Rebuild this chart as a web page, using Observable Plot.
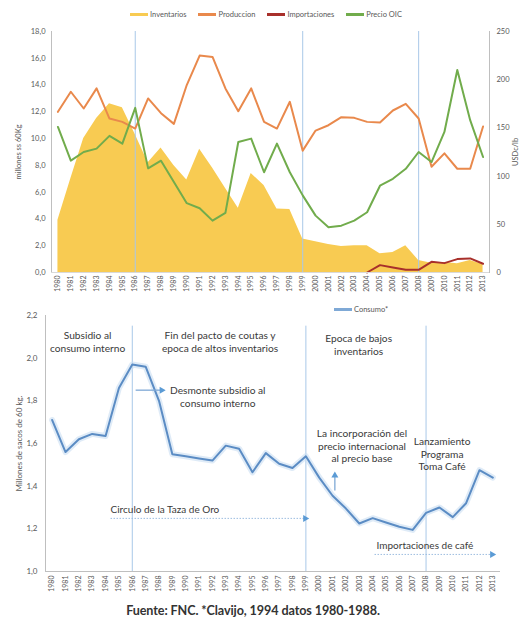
<!DOCTYPE html>
<html>
<head>
<meta charset="utf-8">
<script src="https://cdn.jsdelivr.net/npm/d3@7"></script>
<script src="https://cdn.jsdelivr.net/npm/@observablehq/plot@0.6"></script>
<style>
  body { margin: 0; background: #fff; font-family: Lato, "Open Sans", sans-serif; }
  #wrap { position: relative; width: 521px; height: 620px; overflow: hidden; }
  #wrap svg { position: absolute; left: 0; }
  .legend { position: absolute; display: flex; align-items: center; font-size: 7.5px; color: #595959; white-space: nowrap; }
  .legend .item { display: flex; align-items: center; margin-right: 12px; }
  .legend .sw { display: inline-block; width: 18px; height: 2.5px; margin-right: 2px; }
  #footer { position: absolute; top: 603px; left: 0; width: 506px; text-align: center; font-size: 12.6px; font-weight: 700; color: #333; letter-spacing: -0.1px; }
</style>
</head>
<body>
<div id="wrap">
  <div class="legend" id="legendTop" style="top:10px;left:130px;"></div>
  <div class="legend" id="legendBottom" style="top:305px;left:334px;"></div>
  <div id="footer">Fuente: FNC. *Clavijo, 1994 datos 1980-1988.</div>
</div>
<script>
// Years shown on both panels
const years = [1980, 1981, 1982, 1983, 1984, 1985, 1986, 1987, 1988, 1989,
               1990, 1991, 1992, 1993, 1994, 1995, 1996, 1997, 1998, 1999,
               2000, 2001, 2002, 2003, 2004, 2005, 2006, 2007, 2008, 2009,
               2010, 2011, 2012, 2013];

// Upper panel (millones de sacos de 60 kg)
const inventarios = [3.9, 7.0, 10.0, 11.5, 12.6, 12.3, 10.3, 8.2, 9.3, 8.0,
                     6.9, 9.2, 7.8, 6.3, 4.8, 7.4, 6.5, 4.75, 4.7, 2.5,
                     2.3, 2.1, 1.95, 2.0, 2.0, 1.4, 1.5, 2.0, 0.9, 0.7,
                     0.75, 0.65, 0.9, 0.6];
const produccion = [12.0, 13.5, 12.25, 13.75, 11.5, 11.25, 10.75, 13.0, 11.9, 11.1,
                    14.0, 16.2, 16.1, 13.75, 12.05, 13.75, 11.25, 10.75, 12.75, 9.1,
                    10.6, 11.0, 11.6, 11.55, 11.25, 11.2, 12.1, 12.6, 11.5, 7.9,
                    8.9, 7.75, 7.75, 10.9];
const importYears = [2004, 2005, 2006, 2007, 2008, 2009, 2010, 2011, 2012, 2013];
const importaciones = [0.0, 0.55, 0.38, 0.2, 0.2, 0.8, 0.7, 1.0, 1.05, 0.65];

// Upper panel, right axis (USDc/lb)
const precioOIC = [151, 116, 125, 128.5, 141.7, 133.7, 170.8, 108, 116, 93.8,
                   71.9, 66.7, 53.8, 61.8, 135.4, 138.9, 104, 133.7, 104, 80,
                   59, 46.9, 48.6, 53.8, 62.5, 90, 97.2, 107.6, 125, 114.6,
                   145.8, 210, 158, 119.8];

// Lower panel (millones de sacos de 60 kg)
const consumo = [1.71, 1.56, 1.62, 1.645, 1.635, 1.86, 1.97, 1.96, 1.80, 1.55,
                 1.54, 1.53, 1.52, 1.59, 1.575, 1.465, 1.555, 1.505, 1.485, 1.54,
                 1.44, 1.355, 1.295, 1.225, 1.25, 1.23, 1.21, 1.195, 1.275, 1.30,
                 1.255, 1.32, 1.475, 1.44];

// Period boundaries marked on both panels
const epochYears = [1986, 1999, 2008];

// Axis ticks
const leftTicks = [0, 2, 4, 6, 8, 10, 12, 14, 16, 18];
const rightTicks = [0, 50, 100, 150, 200, 250];
const consumoTicks = [1.0, 1.2, 1.4, 1.6, 1.8, 2.0, 2.2];

// Notes on the lower panel (year, value in millions of bags)
const notesCentered = [
  {year: 1982.65, value: 2.08, text: "Subsidio al\nconsumo interno"},
  {year: 1992.57, value: 2.08, text: "Fin del pacto de coutas y\nepoca de altos inventarios"},
  {year: 1992.4, value: 1.82, text: "Desmonte subsidio al\nconsumo interno"},
  {year: 2002.95, value: 2.066, text: "Epoca de bajos\ninventarios"},
  {year: 2003.2, value: 1.59, text: "La incorporación del\nprecio internacional\nal precio base"},
  {year: 2009.2, value: 1.553, text: "Lanzamiento\nPrograma\nToma Café"}
];
const notesLeft = [
  {year: 1984.37, value: 1.291, text: "Circulo de la Taza de Oro"},
  {year: 2004.29, value: 1.122, text: "Importaciones de café"}
];
const arrows = [
  {x1: 1986.25, y1: 1.85, x2: 1988.2, y2: 1.85, dotted: false},
  {x1: 1984.37, y1: 1.249, x2: 1998.95, y2: 1.249, dotted: true},
  {x1: 2001.17, y1: 1.38, x2: 2001.17, y2: 1.45, dotted: false},
  {x1: 2004.14, y1: 1.08, x2: 2012.95, y2: 1.08, dotted: true}
];

const rows = (xs, vs) => xs.map((year, i) => ({year, value: vs[i]}));
const invRows = rows(years, inventarios);
const prodRows = rows(years, produccion);
const impRows = rows(importYears, importaciones);
const priceRows = rows(years, precioOIC);
const consRows = rows(years, consumo);

const comma1 = d => d.toFixed(1).replace(".", ",");
const xDomain = [1979.5, 2013.5];
const FONT = "Lato, 'Open Sans', sans-serif";

const COLORS = {
  inventarios: "#F8CB52",
  produccion: "#E9894C",
  importaciones: "#A8302B",
  precio: "#71AC4C",
  consumo: "#5B8CC4",
  epoch: "#A9C8E8",
  axis: "#BFBFBF"
};

const wrap = document.getElementById("wrap");

// Upper panel: inventories, production and imports on the left scale
const topMain = Plot.plot({
  width: 521, height: 300,
  marginTop: 31, marginBottom: 28, marginLeft: 51, marginRight: 32,
  style: {background: "transparent", fontFamily: FONT, fontSize: "7.5px", color: "#595959"},
  x: {domain: xDomain},
  y: {domain: [0, 18]},
  marks: [
    Plot.areaY(invRows, {x: "year", y: "value", fill: COLORS.inventarios, curve: "linear"}),
    Plot.ruleX(epochYears, {stroke: COLORS.epoch, strokeWidth: 1}),
    Plot.lineY(prodRows, {x: "year", y: "value", stroke: COLORS.produccion, strokeWidth: 2}),
    Plot.lineY(impRows, {x: "year", y: "value", stroke: COLORS.importaciones, strokeWidth: 2}),
    Plot.axisX({ticks: years, tickFormat: d => String(d), tickRotate: -90, tickSize: 0, tickPadding: 3, label: null, fontSize: 7}),
    Plot.axisY({ticks: leftTicks, tickFormat: comma1, tickSize: 0, tickPadding: 6,
                label: "millones ss 60Kg", labelAnchor: "center", labelArrow: "none", labelOffset: 36}),
    Plot.frame({anchor: "left", stroke: COLORS.axis}),
    Plot.frame({anchor: "bottom", stroke: "#D9D9D9"})
  ]
});
topMain.style.top = "0px";
wrap.appendChild(topMain);

// Upper panel: ICO price on its own right-hand scale
const topPrice = Plot.plot({
  width: 521, height: 300,
  marginTop: 31, marginBottom: 28, marginLeft: 51, marginRight: 32,
  style: {background: "transparent", fontFamily: FONT, fontSize: "7.5px", color: "#595959"},
  x: {domain: xDomain, axis: null},
  y: {domain: [0, 250], axis: null},
  marks: [
    Plot.lineY(priceRows, {x: "year", y: "value", stroke: COLORS.precio, strokeWidth: 2}),
    Plot.axisY({anchor: "right", ticks: rightTicks, tickSize: 0, tickPadding: 7,
                label: "USDc/lb", labelAnchor: "center", labelArrow: "none", labelOffset: 28}),
    Plot.frame({anchor: "right", stroke: COLORS.axis})
  ]
});
topPrice.style.top = "0px";
wrap.appendChild(topPrice);

// Lower panel: domestic consumption with policy notes
const bottom = Plot.plot({
  width: 521, height: 305,
  marginTop: 15, marginBottom: 34, marginLeft: 45, marginRight: 22,
  style: {background: "transparent", fontFamily: FONT, fontSize: "8px", color: "#595959"},
  x: {domain: xDomain},
  y: {domain: [1.0, 2.2]},
  marks: [
    Plot.ruleX(epochYears, {y1: 1.0, y2: 2.15, stroke: COLORS.epoch, strokeWidth: 1}),
    Plot.lineY(consRows, {x: "year", y: "value", stroke: "#C9DEF2", strokeWidth: 6, strokeOpacity: 0.6}),
    Plot.lineY(consRows, {x: "year", y: "value", stroke: COLORS.consumo, strokeWidth: 2}),
    Plot.link(arrows.filter(d => d.dotted), {x1: "x1", y1: "y1", x2: "x2", y2: "y2",
              stroke: "#9DBEE0", strokeWidth: 1, strokeDasharray: "1.5,1.5"}),
    Plot.link(arrows.filter(d => !d.dotted), {x1: "x1", y1: "y1", x2: "x2", y2: "y2",
              stroke: "#7FA9D6", strokeWidth: 1.3}),
    Plot.dot(arrows, {x: "x2", y: "y2", symbol: "triangle", r: 2.6, fill: "#5B9BD5", stroke: null,
              rotate: d => (d.x2 > d.x1 ? 90 : 0)}),
    Plot.text(notesCentered, {x: "year", y: "value", text: "text", textAnchor: "middle", lineAnchor: "middle",
              fontSize: 10.2, lineHeight: 1.25, fill: "#3A3A3A"}),
    Plot.text(notesLeft, {x: "year", y: "value", text: "text", textAnchor: "start", lineAnchor: "middle",
              fontSize: 10, fill: "#3A3A3A"}),
    Plot.axisX({ticks: years, tickFormat: d => String(d), tickRotate: -90, tickSize: 0, tickPadding: 4, label: null, fontSize: 7}),
    Plot.axisY({ticks: consumoTicks, tickFormat: comma1, tickSize: 0, tickPadding: 8,
                label: "Millones de sacos de 60 kg.", labelAnchor: "center", labelArrow: "none", labelOffset: 29, fontSize: 8}),
    Plot.frame({anchor: "left", stroke: COLORS.axis}),
    Plot.frame({anchor: "bottom", stroke: COLORS.axis})
  ]
});
bottom.style.top = "300px";
wrap.appendChild(bottom);

// Legends
const legendTop = [
  {label: "Inventarios", color: COLORS.inventarios},
  {label: "Produccion", color: COLORS.produccion},
  {label: "Importaciones", color: COLORS.importaciones},
  {label: "Precio OIC", color: COLORS.precio}
];
const legendBottom = [{label: "Consumo*", color: "#7FA9D6"}];
function fillLegend(id, items) {
  const el = document.getElementById(id);
  for (const it of items) {
    const item = document.createElement("span");
    item.className = "item";
    const sw = document.createElement("span");
    sw.className = "sw";
    sw.style.background = it.color;
    item.appendChild(sw);
    item.appendChild(document.createTextNode(it.label));
    el.appendChild(item);
  }
}
fillLegend("legendTop", legendTop);
fillLegend("legendBottom", legendBottom);
</script>
</body>
</html>
